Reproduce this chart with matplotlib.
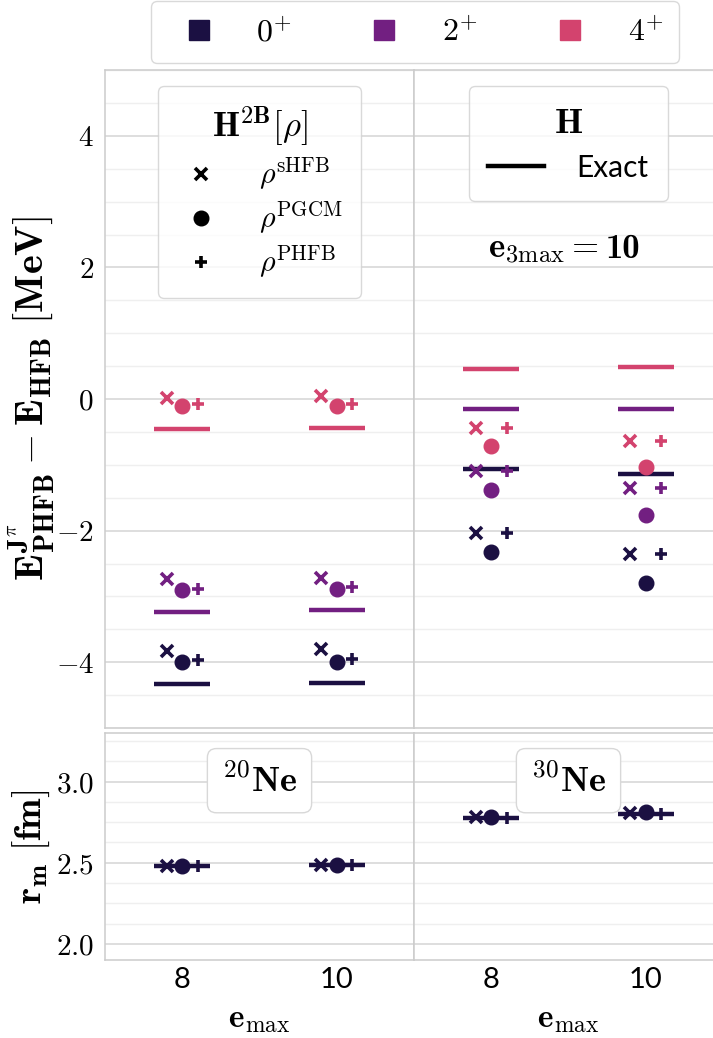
import numpy as np
import matplotlib
matplotlib.use("Agg")
import matplotlib.pyplot as plt
from matplotlib.lines import Line2D
from matplotlib.ticker import AutoMinorLocator, FuncFormatter, MultipleLocator

plt.rcParams["mathtext.fontset"] = "cm"
plt.rcParams["font.family"] = ["Lato", "DejaVu Sans"]

# data
emax = [8, 10]
states = ["$0^{+}$", "$2^{+}$", "$4^{+}$"]
colors = ["#1b1042", "#721f81", "#d3436e"]

# energies [MeV], rows = 0+, 2+, 4+ ; columns = emax 8, 10
ne20_exact = [[-4.33, -4.31], [-3.23, -3.21], [-0.45, -0.44]]
ne20_shfb = [[-3.83, -3.80], [-2.74, -2.72], [0.02, 0.04]]
ne20_pgcm = [[-3.99, -3.99], [-2.90, -2.89], [-0.10, -0.10]]
ne20_phfb = [[-3.97, -3.95], [-2.88, -2.86], [-0.08, -0.07]]

ne30_exact = [[-1.07, -1.14], [-0.15, -0.15], [0.46, 0.48]]
ne30_shfb = [[-2.03, -2.36], [-1.10, -1.35], [-0.44, -0.64]]
ne30_pgcm = [[-2.33, -2.79], [-1.38, -1.76], [-0.71, -1.03]]
ne30_phfb = [[-2.04, -2.36], [-1.10, -1.35], [-0.44, -0.64]]

# matter radii [fm]
ne20_r_exact = [2.48, 2.485]
ne20_r_shfb = [2.478, 2.483]
ne20_r_pgcm = [2.48, 2.486]
ne20_r_phfb = [2.48, 2.485]

ne30_r_exact = [2.777, 2.80]
ne30_r_shfb = [2.782, 2.805]
ne30_r_pgcm = [2.782, 2.81]
ne30_r_phfb = [2.778, 2.80]

x = np.arange(len(emax))
dx = 0.1
hw = 0.18

fig = plt.figure(figsize=(7.13, 10.38), dpi=100)
W, H = 713, 1038
def box(x0, y0, x1, y1):
    return [x0 / W, 1 - y1 / H, (x1 - x0) / W, (y1 - y0) / H]

ax_e20 = fig.add_axes(box(105, 70, 414, 728))
ax_e30 = fig.add_axes(box(414, 70, 723, 728))
ax_r20 = fig.add_axes(box(105, 733, 414, 960))
ax_r30 = fig.add_axes(box(414, 733, 723, 960))

grid_major = "#d4d4d4"
grid_minor = "#efefef"
spine_col = "#cccccc"


def style(ax, ylim, major, show_y):
    ax.set_xlim(-0.5, 1.5)
    ax.set_ylim(*ylim)
    ax.yaxis.set_major_locator(MultipleLocator(major))
    ax.yaxis.set_minor_locator(AutoMinorLocator(4))
    ax.grid(True, which="major", axis="y", color=grid_major, lw=1.1, zorder=0)
    ax.grid(True, which="minor", axis="y", color=grid_minor, lw=1.0, zorder=0)
    ax.set_axisbelow(True)
    for s in ax.spines.values():
        s.set_color(spine_col)
        s.set_linewidth(1.1)
    ax.tick_params(which="both", length=0, labelsize=21)
    ax.set_xticks(x)
    if not show_y:
        ax.tick_params(axis="y", labelleft=False)


style(ax_e20, (-5, 5), 2, True)
style(ax_e30, (-5, 5), 2, False)
style(ax_r20, (1.9, 3.3), 0.5, True)
style(ax_r30, (1.9, 3.3), 0.5, False)

ax_e20.yaxis.set_major_formatter(FuncFormatter(lambda v, p: f"${v:.0f}$"))
ax_r20.yaxis.set_major_formatter(FuncFormatter(lambda v, p: f"${v:.1f}$"))
for ax in (ax_e20, ax_e30):
    ax.tick_params(axis="x", labelbottom=False)
for ax in (ax_r20, ax_r30):
    ax.set_xticklabels([str(e) for e in emax])
    ax.tick_params(axis="x", pad=5)
    ax.set_xlabel(r"$\mathbf{e}_{\max}$", fontsize=24, labelpad=9)
for ax in (ax_e20, ax_r20):
    ax.tick_params(axis="y", pad=8)


def draw(ax, exact, shfb, pgcm, phfb, cols):
    for k in range(len(exact)):
        c = cols[k]
        ax.hlines(exact[k], x - hw, x + hw, color=c, lw=3.2, zorder=3)
    for k in range(len(exact)):
        c = cols[k]
        ax.plot(x - dx, shfb[k], ls="none", marker="x", ms=8, mew=2.6, color=c, zorder=4)
        ax.plot(x, pgcm[k], ls="none", marker="o", ms=10.5, color=c, zorder=4)
        ax.plot(x + dx, phfb[k], ls="none", marker="+", ms=9, mew=2.6, color=c, zorder=4)


draw(ax_e20, ne20_exact, ne20_shfb, ne20_pgcm, ne20_phfb, colors)
draw(ax_e30, ne30_exact, ne30_shfb, ne30_pgcm, ne30_phfb, colors)
draw(ax_r20, [ne20_r_exact], [ne20_r_shfb], [ne20_r_pgcm], [ne20_r_phfb], colors)
draw(ax_r30, [ne30_r_exact], [ne30_r_shfb], [ne30_r_pgcm], [ne30_r_phfb], colors)

ax_e20.set_ylabel(r"$\mathbf{E^{J^{\pi}}_{PHFB} - E_{HFB}\ [MeV]}$", fontsize=29)
ax_r20.set_ylabel(r"$\mathbf{r_m}\ \mathbf{[fm]}$", fontsize=27)
ax_e20.yaxis.set_label_coords(-0.155, 0.5)
ax_r20.yaxis.set_label_coords(-0.17, 0.5)

# method legend
mk = [Line2D([], [], ls="none", marker="x", ms=8, mew=2.6, color="k"),
      Line2D([], [], ls="none", marker="o", ms=10.5, color="k"),
      Line2D([], [], ls="none", marker="+", ms=9, mew=2.6, color="k")]
leg = ax_e20.legend(mk, [r"$\rho^{\mathrm{sHFB}}$", r"$\rho^{\mathrm{PGCM}}$", r"$\rho^{\mathrm{PHFB}}$"],
                    title=r"$\mathbf{H^{2B}}[\rho]$", loc="upper center", bbox_to_anchor=(0.5, 0.975),
                    borderaxespad=0, fontsize=21.5, title_fontsize=25, frameon=True, fancybox=True,
                    handlelength=1.67, handletextpad=1.1, labelspacing=0.25, borderpad=0.6,
                    edgecolor="#d0d0d0")
leg.get_frame().set_linewidth(1.0)

leg2 = ax_e30.legend([Line2D([], [], color="k", lw=3.2)], ["Exact"], title=r"$\mathbf{H}$",
                     loc="upper center", bbox_to_anchor=(0.5, 0.975), borderaxespad=0,
                     fontsize=21.5, title_fontsize=26, handlelength=1.85, handletextpad=1.1,
                     borderpad=0.65, fancybox=True, edgecolor="#d0d0d0")
leg2.get_frame().set_linewidth(1.0)

# e3max annotation: the number is drawn in Computer Modern bold directly
ax_e30.text(0.598, 0.715, r"$\mathbf{e}_{\mathrm{3max}} =$", transform=ax_e30.transAxes,
            ha="right", va="baseline", fontsize=25)
ax_e30.text(0.62, 0.715, "10", family="cmb10", transform=ax_e30.transAxes,
            ha="left", va="baseline", fontsize=25)

bprops = dict(boxstyle="round,pad=0.4,rounding_size=0.25", fc="white", ec="#d8d8d8", lw=1.0)
ax_r20.text(0.5, 0.79, r"$^{20}\mathbf{Ne}$", transform=ax_r20.transAxes, ha="center", va="center",
            fontsize=26, bbox=bprops)
ax_r30.text(0.5, 0.79, r"$^{30}\mathbf{Ne}$", transform=ax_r30.transAxes, ha="center", va="center",
            fontsize=26, bbox=bprops)

# state legend
sq = [Line2D([], [], ls="none", marker="s", ms=15, color=c) for c in colors]
leg3 = fig.legend(sq, states, loc="center", bbox_to_anchor=(415 / W, 1 - 32 / H), ncol=3,
                  fontsize=23, handlelength=2.0, handletextpad=0.8, columnspacing=1.9,
                  borderpad=0.5, fancybox=True, edgecolor="#d0d0d0")
leg3.get_frame().set_linewidth(1.0)

fig.savefig("out.png", dpi=100)
